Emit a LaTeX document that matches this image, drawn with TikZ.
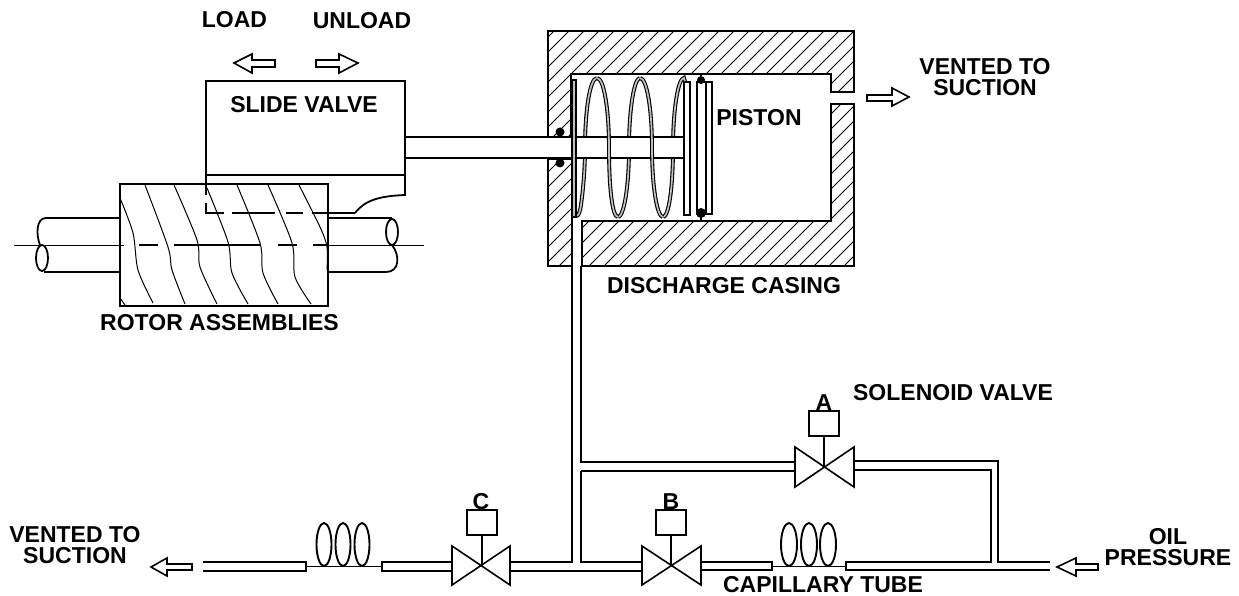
\documentclass[tikz,border=0pt]{standalone}
\usepackage{fontspec}
\setmainfont{Liberation Sans}
\begin{document}
\begin{tikzpicture}[x=1pt,y=-1pt,
  lbl/.style={font=\fontsize{23}{24}\selectfont\bfseries,inner sep=0pt,align=center},
  main/.style={line width=1.8pt,draw=black},
  pipe/.style={line width=1.6pt,draw=black},
  thin line/.style={line width=1pt,draw=black},
  hatch/.style={line width=0.9pt,draw=black},
  fatarrow/.style={line width=1.6pt,draw=black,fill=white,line join=miter},
  valvebody/.style={line width=1.6pt,draw=black,fill=white},
  coilloop/.style={line width=1.9pt,draw=black},
  springcoil/.style={line width=1.1pt,draw=black,double=lightgray,double distance=1.7pt}]
\useasboundingbox (0,0) rectangle (1239,596);
% ---------- hatching of casing
\begin{scope}
  \clip (548,31)--(854,31)--(854,92)--(831,92)--(831,74)--(571,74)--(571,136)--(548,136)--cycle;
  \foreach \k in {270,285,...,825} {\draw[hatch] (\k,300) -- (\k+300,0);}
\end{scope}
\begin{scope}
  \clip (548,159)--(572,159)--(572,266)--(548,266)--cycle;
  \foreach \k in {270,285,...,825} {\draw[hatch] (\k,300) -- (\k+300,0);}
\end{scope}
\begin{scope}
  \clip (582,221)--(831,221)--(831,104)--(854,104)--(854,266)--(582,266)--cycle;
  \foreach \k in {270,285,...,825} {\draw[hatch] (\k,300) -- (\k+300,0);}
\end{scope}
% ---------- casing outline
\draw[main,line join=miter] (548,136)--(548,31)--(854,31)--(854,92)--(831,92)--(831,74)--(571,74)--(571,136);
\draw[main,line join=miter] (572,266)--(548,266)--(548,159)--(572,159)--(572,266);
\draw[main,line join=miter] (582,266)--(854,266)--(854,104)--(831,104)--(831,221)--(582,221)--cycle;
% ---------- spring rear part
\draw[springcoil] (574,205) .. controls (575,219) and (579,219) .. (581,205)
   .. controls (583,190) and (585,170) .. (585,148)
   .. controls (585,110) and (590,78) .. (597,78);
\draw[springcoil] (618,217) .. controls (624,217) and (629,186) .. (629,148)
   .. controls (629,110) and (634,78) .. (640,78);
\draw[springcoil] (663,217) .. controls (669,217) and (673,186) .. (673,148)
   .. controls (673,110) and (678,78) .. (684,78) -- (688,92);
% ---------- rod
\fill[white] (405,137) rectangle (684,158);
\draw[main] (405,137) -- (684,137);
\draw[main] (405,158) -- (684,158);
% ---------- spring front part
\draw[springcoil] (597,78) .. controls (604,78) and (609,110) .. (609,148)
   .. controls (609,186) and (612,217) .. (618,217);
\draw[springcoil] (640,78) .. controls (647,78) and (652,110) .. (652,148)
   .. controls (652,186) and (657,217) .. (663,217);
% ---------- seals
\fill (560,132) circle (4.5);
\fill (560,163) circle (4.5);
% ---------- spring plate and piston
\draw[line width=1.2pt,fill=lightgray] (572,80) rectangle (576,217);
\draw[line width=1.6pt,fill=white] (684,82) rectangle (690,215);
\draw[main,fill=white] (697,82) rectangle (712,214);
\draw[line width=2.4pt] (706,82) -- (706,214);
\draw[line width=2.4pt] (697,82) -- (697,214);
\fill (701,80) circle (4);
\fill (701,213) circle (5);
\draw[line width=2pt] (701,74) -- (701,82);
\draw[line width=2pt] (701,214) -- (701,221);
% ---------- slide valve
\draw[main,line join=miter] (206,186) -- (206,81) -- (405,81) -- (405,195)
  .. controls (380,196) and (365,200) .. (355,213);
\draw[main] (206,175) -- (405,175);
% ---------- rotor
\draw[main,fill=white] (120,184) rectangle (328,306);
\draw[main] (206,184) -- (206,195);
\draw[main] (206,203) -- (206,213) -- (224,213);
\foreach \a/\b in {232/275,286/303,312/355} {\draw[main] (\a,213) -- (\b,213);}
\draw[thin line,smooth] plot coordinates {(120,198) (133,233) (138,270) (153,303)};
\draw[thin line,smooth] plot coordinates {(145,185) (168,247) (172,270) (185,304)};
\draw[thin line,smooth] plot coordinates {(174,185) (197,240) (200,267) (217,304)};
\draw[thin line,smooth] plot coordinates {(207,188) (228,242) (232,273) (248,304)};
\draw[thin line,smooth] plot coordinates {(237,185) (260,243) (263,273) (278,304)};
\draw[thin line,smooth] plot coordinates {(268,185) (292,243) (295,277) (311,304)};
\draw[thin line,smooth] plot coordinates {(299,185) (320,227) (327,247) (327,270)};
\draw[thin line] (120,298) -- (125,305);
\draw[thin line] (14,245) -- (124,245);
\foreach \a/\b in {139/158,174/260,278/297,313/327} {\draw[main] (\a,245) -- (\b,245);}
\draw[thin line] (328,245) -- (424,245);
% ---------- shafts
\draw[main] (120,218) -- (46,218) .. controls (36,218) and (36,235) .. (40,245);
\draw[main] (120,272) -- (44,272);
\draw[main] (42,258) ellipse (6 and 13);
\draw[main] (328,218) -- (392,218);
\draw[main] (328,272) -- (386,272) .. controls (400,272) and (400,255) .. (392,245);
\draw[main] (392,232) ellipse (6 and 13);
% ---------- main pipes
\draw[pipe] (572,221) -- (572,562) -- (510,562);
\draw[pipe] (581,266) -- (581,462) -- (795,462);
\draw[pipe] (581,471) -- (581,562) -- (642,562);
\draw[pipe] (581,471) -- (795,471);
\draw[pipe] (510,571) -- (642,571);
\draw[pipe] (854,461) -- (998,461) -- (998,562) -- (1050,562);
\draw[pipe] (854,470) -- (991,470) -- (991,562) -- (846,562) -- (846,570) -- (1050,570);
\draw[pipe] (701,562) -- (772,562) -- (772,570) -- (701,570);
\draw[pipe] (452,562) -- (382,562) -- (382,571) -- (452,571);
\draw[pipe] (203,562) -- (306,562) -- (306,571) -- (203,571);
% ---------- coils
\draw[thin line] (306,566) -- (382,566);
\foreach \c in {324,343,362} {\draw[coilloop] (\c,544.5) ellipse (7.5 and 21.5);}
\draw[thin line] (772,566) -- (846,566);
\foreach \c in {789,809,828} {\draw[coilloop] (\c,544.5) ellipse (8 and 21.5);}
% ---------- valves
\draw[valvebody,line join=miter] (452,546) -- (510,585) -- (510,546) -- (452,585) -- cycle;
\draw[pipe] (482,535) -- (482,566);
\draw[pipe,fill=white] (467,510) rectangle (497,535);
\draw[valvebody,line join=miter] (642,546) -- (701,585) -- (701,546) -- (642,585) -- cycle;
\draw[pipe] (671,535) -- (671,566);
\draw[pipe,fill=white] (656,510) rectangle (686,535);
\draw[valvebody,line join=miter] (795,447) -- (854,487) -- (854,447) -- (795,487) -- cycle;
\draw[pipe] (824,436) -- (824,467);
\draw[pipe,fill=white] (809,411) rectangle (839,436);
% ---------- fat arrows
\draw[fatarrow] (234,63) -- (252,54) -- (252,60) -- (275,60) -- (275,67) -- (252,67) -- (252,73) -- cycle;
\draw[fatarrow] (358,63) -- (339,54) -- (339,60) -- (316,60) -- (316,67) -- (339,67) -- (339,73) -- cycle;
\draw[fatarrow] (909,97) -- (892,88) -- (892,95) -- (867,95) -- (867,101) -- (892,101) -- (892,106) -- cycle;
\draw[fatarrow] (151,567) -- (167,558) -- (167,564) -- (192,564) -- (192,570) -- (167,570) -- (167,576) -- cycle;
\draw[fatarrow] (1057,567) -- (1076,558) -- (1076,564) -- (1098,564) -- (1098,570) -- (1076,570) -- (1076,576) -- cycle;
% ---------- labels
\node[lbl] (load) at (234.5,20) {LOAD};
\node[lbl] (unload) at (362,21) {UNLOAD};
\node[lbl] (slide) at (304,105) {SLIDE VALVE};
\node[lbl] (rotorlbl) at (219.5,323) {ROTOR ASSEMBLIES};
\node[lbl] (piston) at (759,118) {PISTON};
\node[lbl] (casing) at (724,286) {DISCHARGE CASING};
\node[lbl] (ventr) at (985,77.5) {VENTED TO\\[-3pt]SUCTION};
\node[lbl] (ventl) at (75,545) {VENTED TO\\[-3pt]SUCTION};
\node[lbl] (sol) at (953,393) {SOLENOID VALVE};
\node[lbl] (oil) at (1168,547) {OIL\\[-3pt]PRESSURE};
\node[lbl] (cap) at (823,585) {CAPILLARY TUBE};
\node[lbl] (vc) at (481,502) {C};
\node[lbl] (vb) at (671,502) {B};
\node[lbl] (va) at (824,403) {A};
\end{tikzpicture}
\end{document}
